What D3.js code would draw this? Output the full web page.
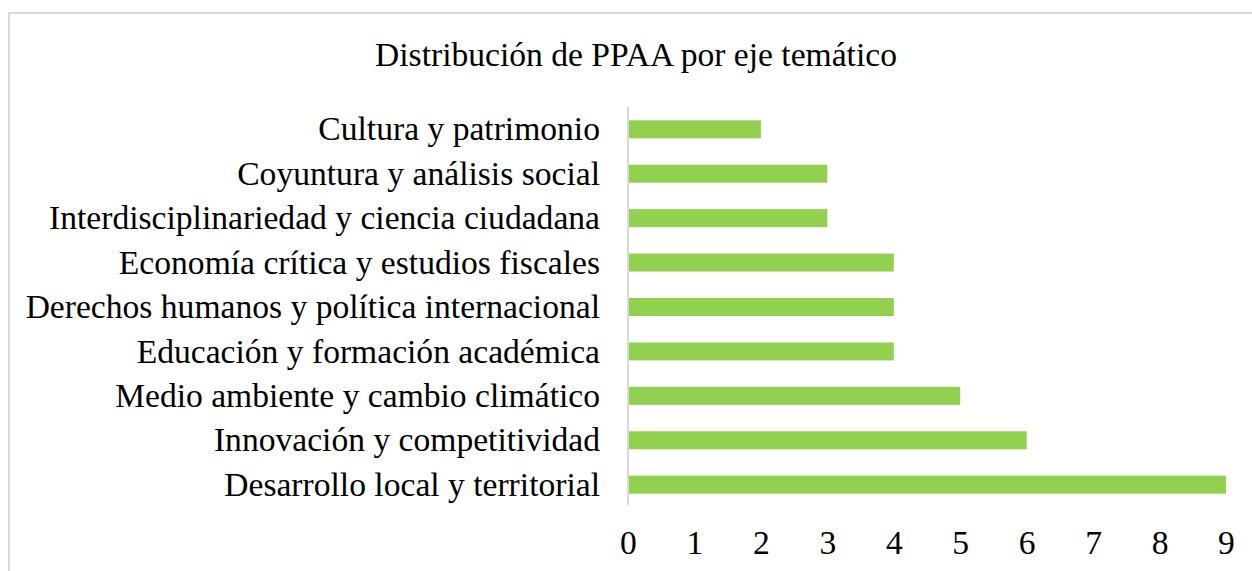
<!DOCTYPE html>
<html><head><meta charset="utf-8">
<script src="https://cdn.jsdelivr.net/npm/d3@7"></script>
<style>body{margin:0;background:#fff}svg{display:block}</style>
</head><body>
<svg id="c" width="1252" height="571"></svg>
<script>
const categories = ["Cultura y patrimonio","Coyuntura y análisis social","Interdisciplinariedad y ciencia ciudadana","Economía crítica y estudios fiscales","Derechos humanos y política internacional","Educación y formación académica","Medio ambiente y cambio climático","Innovación y competitividad","Desarrollo local y territorial"];
const values = [2,3,3,4,4,4,5,6,9];
const ticks = [0,1,2,3,4,5,6,7,8,9];
const title = "Distribución de PPAA por eje temático";
const FONT = "'Liberation Serif', 'Times New Roman', Tinos, serif";
const FS = "33.6px";

const svg = d3.select("#c");
svg.append("rect").attr("x",9).attr("y",13).attr("width",1260).attr("height",570)
  .attr("fill","none").attr("stroke","#d9d9d9").attr("stroke-width",2);

const x = d3.scaleLinear().domain([0,9]).range([628,1226]);
const y = d3.scaleBand().domain(categories).range([107,507]).paddingInner(0.595).paddingOuter(0.3);

svg.append("text").attr("x",636).attr("y",66).attr("text-anchor","middle")
  .style("font-family",FONT).style("font-size",FS).style("fill","#000").text(title);

svg.selectAll("rect.bar").data(values).enter().append("rect").attr("class","bar")
  .attr("x",x(0)).attr("y",(d,i)=>y(categories[i])).attr("width",d=>x(d)-x(0))
  .attr("height",y.bandwidth()).attr("fill","#92d050");

const ya = svg.append("g").attr("transform",`translate(${x(0)},0)`)
  .call(d3.axisLeft(y).tickSize(0).tickPadding(28));
ya.attr("font-family",null);
ya.select(".domain").attr("stroke","#d9d9d9").attr("stroke-width",2).attr("d","M0,107V505");
ya.selectAll("text").style("font-family",FONT).style("font-size",FS).style("fill","#000").attr("dy","0.33em");

const xa = svg.append("g").attr("transform","translate(0,520)")
  .call(d3.axisBottom(x).tickValues(ticks).tickSize(0).tickPadding(10));
xa.attr("font-family",null);
xa.select(".domain").remove();
xa.selectAll("text").style("font-family",FONT).style("font-size",FS).style("fill","#000");
</script>
</body></html>
